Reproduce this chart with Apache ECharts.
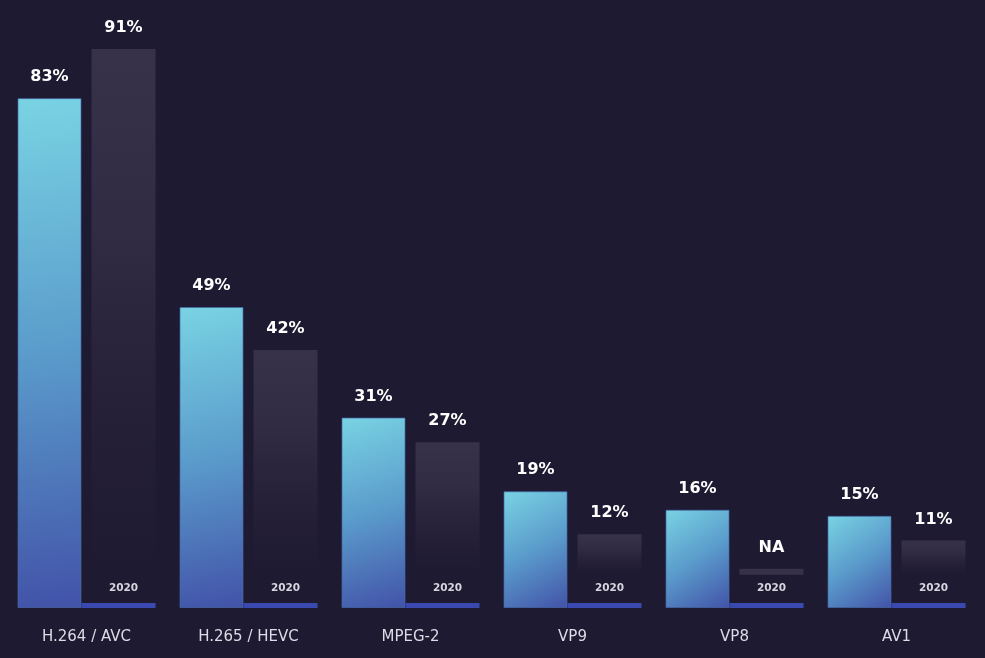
<!DOCTYPE html>
<html>
<head>
<meta charset="utf-8">
<script src="https://cdn.jsdelivr.net/npm/echarts@6/dist/echarts.min.js"></script>
<style>
  html, body { margin: 0; padding: 0; background: #1e1a31; }
  #chart { width: 985px; height: 658px; }
</style>
</head>
<body>
<div id="chart"></div>
<script>
// ---- data ----
const categories = ['H.264 / AVC', 'H.265 / HEVC', 'MPEG-2', 'VP9', 'VP8', 'AV1'];
const current = [83, 49, 31, 19, 16, 15];
const prev2020 = [91, 42, 27, 12, null, 11];   // null = NA
const prevLabel = '2020';
const naLabel = 'NA';

// ---- style constants ----
const BAR_W = 64;
const GAP = 10;
const FADE_BASE = 5.4;   // gray bars stop a little above the baseline
const NA_STUB = 1.0;     // height of the NA placeholder stub
const LINE_H = 5;

const chart = echarts.init(document.getElementById('chart'), null, { renderer: 'canvas' });

const cyanGrad = new echarts.graphic.LinearGradient(0, 0, 1, 1, [
  { offset: 0, color: '#79d3e3' },
  { offset: 0.5, color: '#5a9bcb' },
  { offset: 1, color: '#4252a8' }
]);
const grayGrad = new echarts.graphic.LinearGradient(0, 0, 0, 1, [
  { offset: 0, color: 'rgba(56,49,74,1)' },
  { offset: 0.35, color: 'rgba(52,46,70,0.85)' },
  { offset: 1, color: 'rgba(44,38,62,0)' }
]);

const grayData = prev2020.map(v => v == null
  ? { value: NA_STUB, itemStyle: { color: '#37324a' } }
  : v - FADE_BASE);

const valueLabel = {
  show: true, position: 'top', distance: 13,
  color: '#ffffff', fontFamily: 'DejaVu Sans', fontWeight: 'bold', fontSize: 16
};

const option = {
  backgroundColor: '#1e1a31',
  animation: false,
  grid: { left: 5.5, right: 7.5, top: 49, bottom: 50 },
  xAxis: {
    type: 'category',
    data: categories,
    axisLine: { show: false },
    axisTick: { show: false },
    axisLabel: {
      margin: 22, color: '#dcdce6', fontFamily: 'DejaVu Sans', fontSize: 15
    }
  },
  yAxis: { type: 'value', min: 0, max: 91, show: false, splitLine: { show: false } },
  series: [
    {
      name: 'current', type: 'bar', data: current,
      barWidth: BAR_W, barGap: (GAP / BAR_W * 100) + '%',
      itemStyle: { color: cyanGrad, borderColor: 'rgba(70,105,170,0.7)', borderWidth: 1 },
      label: Object.assign({}, valueLabel, { formatter: p => p.value + '%' }),
      z: 3
    },
    {
      name: 'base', type: 'bar', stack: 'p', data: prev2020.map(() => FADE_BASE),
      barWidth: BAR_W, itemStyle: { color: 'rgba(0,0,0,0)' }, silent: true
    },
    {
      name: prevLabel, type: 'bar', stack: 'p', data: grayData,
      barWidth: BAR_W,
      itemStyle: { color: grayGrad },
      label: Object.assign({}, valueLabel, {
        formatter: p => prev2020[p.dataIndex] == null ? naLabel : prev2020[p.dataIndex] + '%'
      })
    },
    {
      name: 'baseline', type: 'custom', silent: true, z: 4,
      data: categories.map((c, i) => [i]),
      renderItem: function (params, api) {
        const pt = api.coord([api.value(0), 0]);
        const cx = pt[0], by = pt[1];
        const x0 = cx - GAP / 2;
        return {
          type: 'group',
          children: [
            {
              type: 'rect',
              shape: { x: x0, y: by - LINE_H, width: GAP + BAR_W, height: LINE_H },
              style: { fill: '#3a49b0' }
            },
            {
              type: 'text',
              style: {
                text: prevLabel, x: cx + GAP / 2 + BAR_W / 2, y: by - 20,
                align: 'center', verticalAlign: 'middle',
                fill: '#d6d6de', font: 'bold 10.5px "DejaVu Sans"'
              }
            }
          ]
        };
      }
    }
  ]
};
chart.setOption(option);
</script>
</body>
</html>
